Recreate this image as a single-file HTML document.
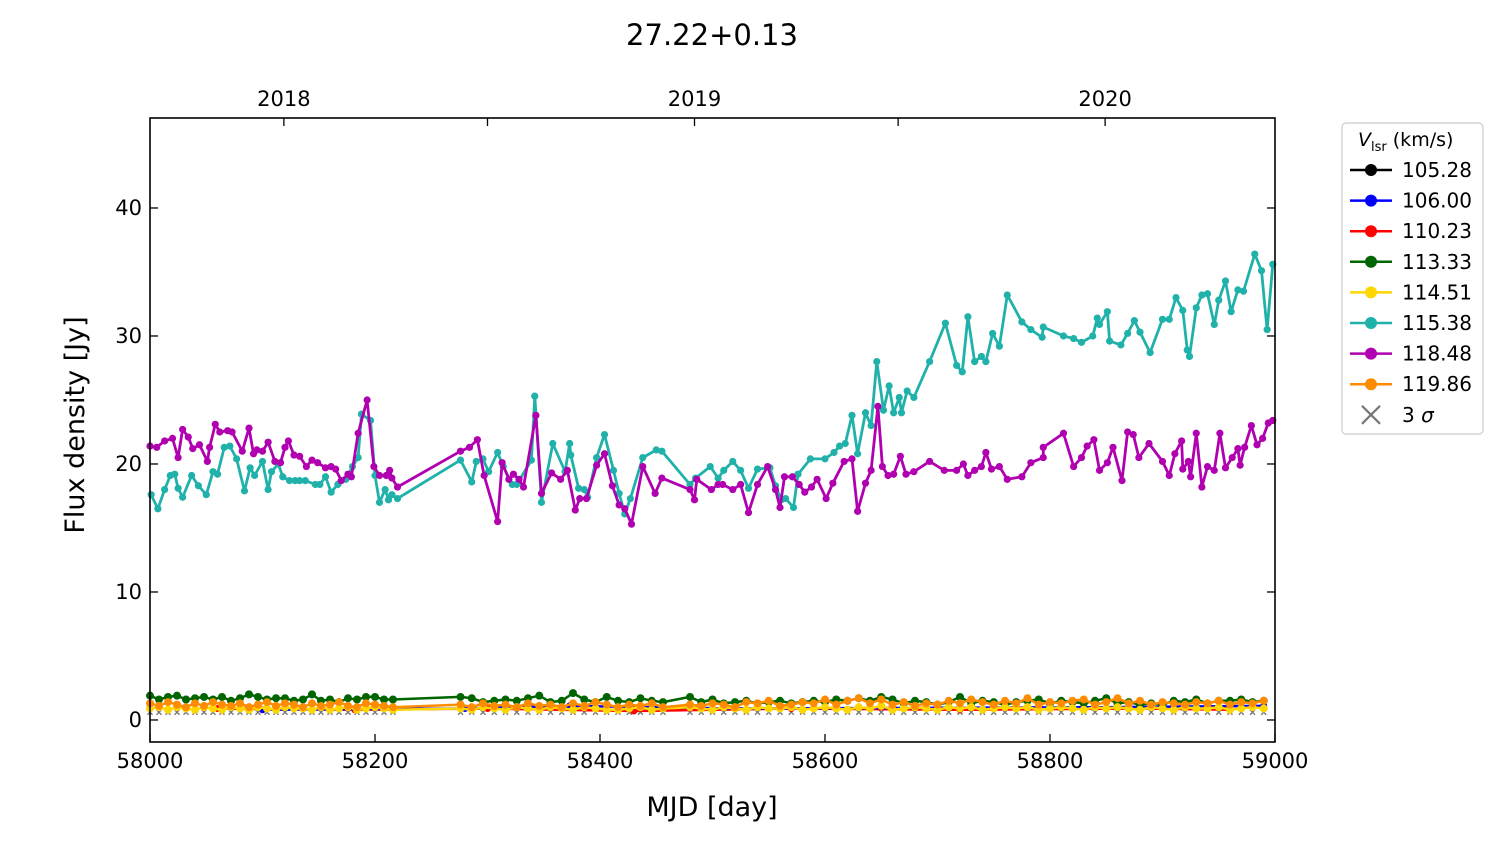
<!DOCTYPE html>
<html><head><meta charset="utf-8"><style>
body{margin:0;background:#fff;}
svg text{font-family:"DejaVu Sans","Liberation Sans",sans-serif;fill:#000;}
</style></head><body>
<svg id="chart" width="1500" height="844" viewBox="0 0 1500 844"></svg>
<script>
// ---- data (MJD offsets from 58000, flux in Jy) ----
const cyanDays=[1,7,13,18,22,25,29,37,43,50,56,60,66,71,77,84,89,93,100,105,108,114,118,124,129,133,138,147,151,156,161,167,174,180,185,188,196,200,204,209,212,215,220,276,286,290,296,301,309,314,322,326,339,342,348,358,369,373,374,381,386,389,397,404,412,417,422,427,438,450,455,480,485,498,505,510,518,525,532,540,551,556,561,565,572,576,587,600,608,613,618,624,629,636,641,646,652,657,661,666,668,673,679,693,707,717,722,727,733,739,743,749,755,762,775,783,793,794,812,821,828,838,842,844,851,853,863,869,875,880,889,900,906,912,918,922,924,930,935,940,946,950,956,961,967,972,982,988,993,998];
const cyanFlux=[17.6,16.5,18.0,19.1,19.2,18.1,17.4,19.1,18.3,17.6,19.4,19.2,21.3,21.4,20.4,17.9,19.7,19.1,20.2,18.0,19.4,20.0,19.0,18.7,18.7,18.7,18.7,18.4,18.4,19.0,17.8,18.4,18.8,19.8,20.5,23.9,23.4,19.1,17.0,18.0,17.2,17.6,17.3,20.3,18.6,20.2,20.4,19.4,20.9,19.8,18.4,18.4,20.3,25.3,17.0,21.6,19.4,21.6,20.7,18.1,18.0,17.4,20.5,22.3,19.5,17.7,16.1,17.3,20.5,21.1,21.0,18.4,18.9,19.8,18.9,19.5,20.2,19.5,18.1,19.6,19.7,18.3,17.2,17.3,16.6,19.2,20.4,20.4,20.9,21.4,21.6,23.8,20.8,24.0,23.0,28.0,24.2,26.1,24.0,25.2,24.0,25.7,25.2,28.0,31.0,27.7,27.2,31.5,28.0,28.4,28.0,30.2,29.2,33.2,31.1,30.5,29.9,30.7,30.0,29.8,29.5,30.0,31.4,30.9,31.9,29.6,29.3,30.2,31.2,30.3,28.7,31.3,31.3,33.0,32.0,28.9,28.4,32.2,33.2,33.3,30.9,32.8,34.3,31.9,33.6,33.5,36.4,35.1,30.5,35.6];
const magDays=[0,6,13,20,25,29,34,38,44,51,53,58,62,69,73,82,88,92,95,100,105,111,116,120,123,128,133,139,144,149,156,161,165,170,176,179,185,193,199,204,210,213,215,220,276,284,291,297,309,313,319,323,328,332,343,348,357,365,371,378,382,388,397,404,411,417,422,428,438,449,455,480,484,486,499,505,509,518,525,532,540,549,556,560,564,571,577,582,588,593,601,607,617,624,629,636,641,647,651,656,661,667,672,679,693,706,717,723,727,733,739,743,748,755,762,775,783,794,794,812,821,828,833,839,844,851,856,864,869,874,879,888,900,906,911,917,918,923,925,930,935,940,946,951,956,962,967,969,973,979,984,989,994,998];
const magFlux=[21.4,21.3,21.8,22.0,20.5,22.7,22.1,21.2,21.5,20.2,21.3,23.1,22.5,22.6,22.5,21.0,22.8,20.8,21.1,21.0,21.7,20.2,20.1,21.3,21.8,20.7,20.6,19.8,20.3,20.1,19.7,19.8,19.6,18.7,19.2,19.0,22.4,25.0,19.8,19.1,19.1,19.5,18.9,18.2,21.0,21.3,21.9,19.1,15.5,20.1,18.8,19.2,18.8,18.2,23.8,17.7,19.3,18.8,19.5,16.4,17.3,17.3,19.9,20.8,18.3,16.8,16.5,15.3,19.8,17.7,18.9,18.0,17.2,18.8,18.0,18.4,18.4,18.0,18.4,16.2,18.4,19.8,18.0,16.6,19.0,19.0,18.4,17.8,18.2,18.8,17.3,18.5,20.2,20.4,16.3,18.5,19.5,24.5,19.8,19.1,19.2,20.6,19.2,19.4,20.2,19.5,19.5,20.0,19.1,19.5,19.8,20.9,19.6,19.8,18.8,19.0,20.1,20.5,21.3,22.4,19.8,20.5,21.4,21.9,19.5,20.1,21.3,18.7,22.5,22.3,20.5,21.6,20.2,19.1,20.8,21.8,19.6,20.2,19.0,22.4,18.2,19.8,19.5,22.4,19.7,20.5,21.2,19.9,21.3,23.0,21.5,22.0,23.2,23.4];
const lowDays=[0,8,16,24,32,40,48,56,64,72,80,88,96,104,112,120,128,136,144,152,160,168,176,184,192,200,208,216,276,286,296,306,316,326,336,346,356,366,376,386,396,406,416,426,436,446,456,480,490,500,510,520,530,540,550,560,570,580,590,600,610,620,630,640,650,660,670,680,690,700,710,720,730,740,750,760,770,780,790,800,810,820,830,840,850,860,870,880,890,900,910,920,930,940,950,960,970,980,990];
const greenFlux=[1.9,1.6,1.8,1.9,1.6,1.7,1.8,1.6,1.8,1.5,1.7,2.0,1.8,1.6,1.7,1.7,1.5,1.6,2.0,1.5,1.6,1.4,1.7,1.6,1.8,1.8,1.6,1.6,1.8,1.7,1.4,1.5,1.6,1.5,1.7,1.9,1.4,1.5,2.1,1.6,1.4,1.8,1.5,1.4,1.7,1.5,1.4,1.8,1.4,1.6,1.3,1.4,1.5,1.3,1.4,1.5,1.3,1.4,1.5,1.4,1.6,1.5,1.7,1.5,1.8,1.6,1.3,1.5,1.4,1.2,1.4,1.8,1.3,1.5,1.4,1.2,1.4,1.5,1.6,1.3,1.5,1.4,1.3,1.5,1.7,1.3,1.4,1.2,1.3,1.2,1.5,1.4,1.6,1.3,1.5,1.5,1.6,1.4,1.5];
const orangeFlux=[1.3,1.1,1.4,1.2,1.0,1.3,1.1,1.4,1.2,1.1,1.3,1.0,1.2,1.4,1.1,1.3,1.2,1.0,1.3,1.1,1.2,1.4,1.1,1.0,1.3,1.2,1.1,1.0,1.2,1.0,1.3,1.1,1.2,1.0,1.3,1.1,1.2,1.0,1.3,1.1,1.4,1.2,1.0,1.2,1.1,1.3,1.0,1.2,1.1,1.3,1.2,1.0,1.4,1.3,1.5,1.1,1.2,1.4,1.3,1.6,1.2,1.5,1.7,1.3,1.6,1.2,1.4,1.1,1.3,1.2,1.5,1.3,1.6,1.4,1.2,1.5,1.3,1.7,1.2,1.4,1.3,1.5,1.6,1.2,1.4,1.7,1.3,1.5,1.2,1.4,1.3,1.2,1.4,1.3,1.5,1.2,1.4,1.3,1.5];
const yellowFlux=[0.9,1.0,0.8,1.0,0.9,0.8,1.0,0.9,0.8,1.0,0.9,0.8,1.0,0.9,0.8,1.0,0.9,0.9,0.8,1.0,0.8,0.9,1.0,0.8,0.9,1.0,0.9,0.8,0.9,0.8,1.0,0.9,0.8,1.0,0.9,0.8,1.0,0.9,0.8,1.0,0.9,0.8,0.8,0.9,1.0,0.8,0.9,1.0,0.9,0.8,1.0,0.9,0.8,1.0,0.9,0.9,1.0,0.8,0.9,1.0,0.9,0.8,1.0,0.9,1.1,0.8,0.9,1.0,0.9,0.8,1.0,0.9,1.0,0.8,0.9,1.0,0.9,1.0,0.8,0.9,1.0,0.9,0.8,1.0,0.9,1.0,0.9,0.8,1.0,0.9,0.8,1.0,0.9,0.9,1.0,0.8,0.9,1.0,0.9];
const sigmaFlux=0.6;
const redDays=[60,182,300,430,570,720,880,960];
const redFlux=[0.9,0.8,0.9,0.7,0.9,0.8,0.9,0.8];
const blueDays=[100,280,373,520,840,990];
const blueFlux=[0.8,0.9,1.1,0.9,1.0,1.1];
const xTicks=[58000,58200,58400,58600,58800,59000];
const yTicks=[0,10,20,30,40];
const yearTicks=[{mjd:58119,label:"2018"},{mjd:58484,label:"2019"},{mjd:58849,label:"2020"}];
const halfYearTicks=[58300,58665];
const legendLabels=["105.28","106.00","110.23","113.33","114.51","115.38","118.48","119.86"];
const legendColors=["#000000","#0000ff","#ff0000","#006400","#ffd700","#20b2aa","#b000b0","#ff8c00"];

const L=150,R=1275,T=118,B=742, xMin=58000,xMax=59000,yMin=-1.72,yMax=47.03;
const X=v=>L+(v-xMin)/(xMax-xMin)*(R-L);
const Y=v=>B-(v-yMin)/(yMax-yMin)*(B-T);
const svg=document.getElementById('chart');
const NS="http://www.w3.org/2000/svg";
function mk(tag,attrs,parent){const e=document.createElementNS(NS,tag);for(const k in attrs)e.setAttribute(k,attrs[k]);(parent||svg).appendChild(e);return e;}

function series(days,flux,color,name,r,lw){
  const g=mk('g',{});
  
  
  const pts=days.map((d,i)=>X(58000+d).toFixed(1)+','+Y(flux[i]).toFixed(1)).join(' ');
  const pl=mk('polyline',{points:pts,fill:'none',stroke:color,'stroke-width':lw,'stroke-linejoin':'round'},g);
  
  
  days.forEach((d,i)=>{
    const c=mk('circle',{cx:X(58000+d),cy:Y(flux[i]),r:r,fill:color},g);
    
    
  });
}
const sg=mk('g',{stroke:'#777','stroke-width':1.4});


lowDays.forEach(d=>{const x=X(58000+d),y=Y(sigmaFlux);mk('path',{d:`M${x-2.5},${y-2.5}L${x+2.5},${y+2.5}M${x-2.5},${y+2.5}L${x+2.5},${y-2.5}`},sg);});
series(redDays,redFlux,'#ff0000','series-110-23',3.5,2.5);
series(blueDays,blueFlux,'#0000ff','series-106-00',3.5,2.5);
series(lowDays,greenFlux,'#006400','series-113-33',4,2.5);
series(lowDays,yellowFlux,'#ffd700','series-114-51',4,2.5);
series(lowDays,orangeFlux,'#ff8c00','series-119-86',4,2.5);
series(cyanDays,cyanFlux,'#20b2aa','series-115-38',3.6,2.8);
series(magDays,magFlux,'#b000b0','series-118-48',3.6,2.8);

const fr=mk('rect',{x:L,y:T,width:R-L,height:B-T,fill:'none',stroke:'#000','stroke-width':1.6});

xTicks.forEach(v=>{const x=X(v);mk('line',{x1:x,y1:B,x2:x,y2:B-8,stroke:'#000','stroke-width':1.3});
  const t=mk('text',{x:x,y:768,'font-size':21,'text-anchor':'middle'});t.textContent=v;
  });
yTicks.forEach(v=>{const y=Y(v);mk('line',{x1:L,y1:y,x2:L+8,y2:y,stroke:'#000','stroke-width':1.3});mk('line',{x1:R,y1:y,x2:R-8,y2:y,stroke:'#000','stroke-width':1.3});
  const t=mk('text',{x:142,y:y+7,'font-size':21,'text-anchor':'end'});t.textContent=v;
  });
yearTicks.forEach(o=>{const x=X(o.mjd);mk('line',{x1:x,y1:T,x2:x,y2:T+8,stroke:'#000','stroke-width':1.3});
  const t=mk('text',{x:x,y:106,'font-size':21,'text-anchor':'middle'});t.textContent=o.label;
  });
halfYearTicks.forEach(v=>{const x=X(v);mk('line',{x1:x,y1:T,x2:x,y2:T+8,stroke:'#000','stroke-width':1.3});});

const lg=mk('g',{});

mk('rect',{x:1342,y:123,width:141,height:311,rx:4,fill:'#fff',stroke:'#ccc','stroke-width':1.2},lg);
const lt=mk('text',{x:1358,y:146,'font-size':19},lg);
lt.innerHTML='<tspan font-style="italic">V</tspan><tspan font-size="13" dy="5">lsr</tspan><tspan dy="-5"> (km/s)</tspan>';

legendLabels.forEach((lab,i)=>{const y=170+i*30.6;
  const e=mk('g',{},lg);
  
  mk('line',{x1:1350,y1:y,x2:1392,y2:y,stroke:legendColors[i],'stroke-width':2.5},e);
  mk('circle',{cx:1371,cy:y,r:6,fill:legendColors[i]},e);
  const t=mk('text',{x:1402,y:y+7,'font-size':20},e);t.textContent=lab;});
const sy=170+8*30.6;
const se=mk('g',{stroke:'#777','stroke-width':2.2},lg);

mk('path',{d:`M1362,${sy-9}L1380,${sy+9}M1362,${sy+9}L1380,${sy-9}`},se);
const st=mk('text',{x:1402,y:sy+7,'font-size':20},lg);st.innerHTML='3 <tspan font-style="italic">σ</tspan>';

const tt=mk('text',{x:712,y:45,'font-size':29,'text-anchor':'middle'});tt.textContent='27.22+0.13';

const xl=mk('text',{x:712,y:816,'font-size':27,'text-anchor':'middle'});xl.textContent='MJD [day]';

const yl=mk('text',{x:0,y:0,'font-size':27,'text-anchor':'middle',transform:'translate(84,425) rotate(-90)'});yl.textContent='Flux density [Jy]';

</script>
</body></html>
